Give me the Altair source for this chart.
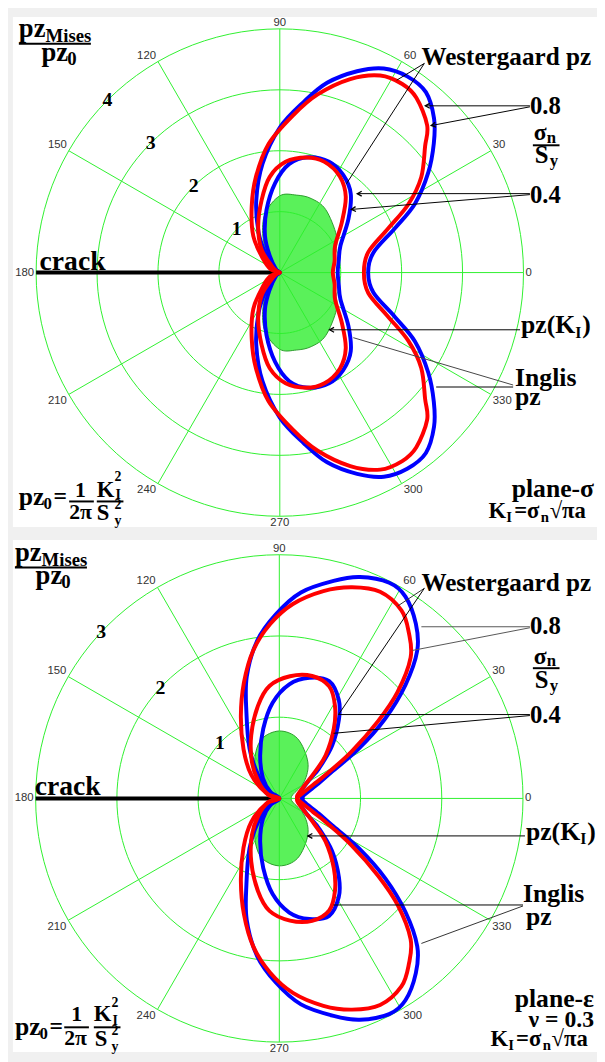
import math
import altair as alt
import pandas as pd

# ===================== values =====================
# Polar curves: angle in degrees (0 = ahead of the crack tip), radius in pz/pz0.
# Only the upper half is listed; every loop is a mirror image about the crack line.

# ---- top panel: plane stress ----
TOP_WEST_08_ANG = [0, 12, 21, 27, 34, 40, 45, 51, 57, 63, 69, 76, 82, 90, 99, 108, 118, 129, 145, 180]
TOP_WEST_08_R = [1.45, 1.57, 2.02, 2.49, 2.94, 3.30, 3.58, 3.81, 3.84, 3.76, 3.54, 3.21, 2.83, 2.38, 1.81, 1.25, 0.74, 0.35, 0.13, 0]
TOP_INGL_08_ANG = [0, 13, 22, 28, 34, 41, 45, 52, 57, 63, 70, 78, 85, 95, 104, 113, 126, 141, 160, 180]
TOP_INGL_08_R = [1.38, 1.49, 1.91, 2.39, 2.80, 3.16, 3.42, 3.64, 3.69, 3.63, 3.38, 2.99, 2.60, 2.12, 1.62, 1.18, 0.74, 0.35, 0.16, 0]
TOP_WEST_04_ANG = [0, 12, 24, 38, 48, 57, 66, 76, 85, 93, 102, 112, 121, 140, 180]
TOP_WEST_04_R = [0.95, 0.99, 1.09, 1.43, 1.74, 1.91, 1.99, 1.95, 1.79, 1.47, 1.05, 0.65, 0.32, 0.08, 0]
TOP_INGL_04_ANG = [0, 12, 26, 39, 49, 58, 68, 77, 87, 96, 104, 115, 128, 140, 160, 180]
TOP_INGL_04_R = [0.87, 0.92, 1.01, 1.31, 1.65, 1.86, 1.96, 1.94, 1.82, 1.58, 1.23, 0.84, 0.49, 0.18, 0.05, 0]
TOP_KI_ANG = [0, 20, 33, 54, 67, 78, 90, 104, 115, 125, 150, 180]
TOP_KI_R = [0.86, 0.97, 1.11, 1.28, 1.32, 1.30, 1.26, 1.00, 0.66, 0.34, 0.06, 0]

# ---- bottom panel: plane strain, nu = 0.3 ----
BOT_WEST_08_ANG = [0, 8, 21, 27, 32, 37, 42, 47, 52, 58, 63, 70, 76, 84, 91, 98, 105, 111, 121, 132, 144, 180]
BOT_WEST_08_R = [0.29, 0.31, 0.52, 0.73, 1.15, 1.63, 2.09, 2.49, 2.73, 2.93, 2.98, 2.90, 2.76, 2.55, 2.27, 1.96, 1.55, 1.13, 0.71, 0.39, 0.15, 0]
BOT_INGL_08_ANG = [0, 10, 22, 27, 33, 38, 42, 47, 52, 57, 64, 71, 78, 86, 93, 100, 107, 115, 126, 140, 158, 180]
BOT_INGL_08_R = [0.22, 0.27, 0.45, 0.64, 1.06, 1.54, 1.96, 2.37, 2.59, 2.76, 2.83, 2.75, 2.61, 2.40, 2.15, 1.85, 1.49, 1.12, 0.75, 0.45, 0.17, 0]
BOT_WEST_04_ANG = [0, 18, 32, 37, 45, 53, 59, 67, 76, 85, 94, 103, 114, 129, 147, 180]
BOT_WEST_04_R = [0.28, 0.28, 0.44, 0.61, 0.92, 1.22, 1.42, 1.57, 1.53, 1.41, 1.18, 0.88, 0.58, 0.32, 0.12, 0]
BOT_INGL_04_ANG = [0, 11, 28, 35, 43, 52, 59, 66, 75, 85, 95, 103, 114, 127, 141, 162, 180]
BOT_INGL_04_R = [0.22, 0.23, 0.36, 0.50, 0.78, 1.09, 1.33, 1.51, 1.56, 1.51, 1.39, 1.17, 0.85, 0.56, 0.33, 0.14, 0]
BOT_KI_ANG = [0, 15, 34, 52, 73, 90, 107, 122, 136, 158, 180]
BOT_KI_R = [0.15, 0.17, 0.37, 0.57, 0.77, 0.83, 0.76, 0.57, 0.36, 0.17, 0]

# ---- grid ----
TOP_RINGS = [1, 2, 3, 4]
BOT_RINGS = [1, 2, 3]
SPOKES = [0, 30, 60, 90, 120, 150, 180, 210, 240, 270, 300, 330]

BLUE = "#0000ff"
RED = "#ff0000"
GRID = "#2ef02e"
KFILL = "#4cf04c"
KEDGE = "#2c9c2c"
SERIF = "Liberation Serif"


def loop_rows(name, angs, rs):
    rows = []
    for a, r in zip(angs, rs):
        rows.append({"curve": name, "idx": len(rows), "ang": a, "r": r})
    for a, r in zip(reversed(angs[1:-1]), reversed(rs[1:-1])):
        rows.append({"curve": name, "idx": len(rows), "ang": 360 - a, "r": r})
    return rows


XCALC = "datum.r * cos(datum.ang * PI / 180)"
YCALC = "datum.r * sin(datum.ang * PI / 180)"


def panel(p):
    ox, oy = p["origin"]
    W, H = p["size"]
    cx, cy = p["center"]
    u = p["unit"]
    xs = alt.Scale(domain=[(ox - cx) / u, (ox + W - cx) / u], nice=False, zero=False)
    ys = alt.Scale(domain=[(cy - (oy + H)) / u, (cy - oy) / u], nice=False, zero=False)

    def X(f):
        return alt.X(f, type="quantitative", scale=xs, axis=None)

    def Y(f):
        return alt.Y(f, type="quantitative", scale=ys, axis=None)

    def PX(f):
        return alt.X(f, type="quantitative", scale=None, axis=None)

    def PY(f):
        return alt.Y(f, type="quantitative", scale=None, axis=None)

    layers = []
    R = max(p["rings"])

    # green pz(KI) zone
    kdf = pd.DataFrame(loop_rows("KI", p["ki"][0], p["ki"][1]))
    layers.append(
        alt.Chart(kdf).transform_calculate(x=XCALC, y=YCALC)
        .mark_line(interpolate="cardinal-closed", fill=KFILL, fillOpacity=0.92,
                   stroke=KEDGE, strokeWidth=1)
        .encode(x=X("x"), y=Y("y"), order=alt.Order("idx:Q"))
    )

    # rings
    ring_df = pd.DataFrame([{"ring": k, "ang": a} for k in p["rings"] for a in range(0, 361, 3)])
    layers.append(
        alt.Chart(ring_df).transform_calculate(x="datum.ring * cos(datum.ang * PI / 180)",
                                               y="datum.ring * sin(datum.ang * PI / 180)")
        .mark_line(color=GRID, strokeWidth=1)
        .encode(x=X("x"), y=Y("y"), detail="ring:N", order=alt.Order("ang:Q"))
    )

    # spokes
    sp_df = pd.DataFrame({"ang": SPOKES, "r": [R] * len(SPOKES), "z": [0] * len(SPOKES)})
    layers.append(
        alt.Chart(sp_df).transform_calculate(x=XCALC, y=YCALC)
        .mark_rule(color=GRID, strokeWidth=1)
        .encode(x=X("z"), y=Y("z"), x2="x:Q", y2="y:Q")
    )

    # crack
    cr_df = pd.DataFrame({"x0": [-R], "x1": [0], "y": [0]})
    layers.append(
        alt.Chart(cr_df).mark_rule(color="black", strokeWidth=4)
        .encode(x=X("x0"), x2="x1:Q", y=Y("y"))
    )

    # curves: blue (Westergaard) below red (Inglis)
    for curves, col in ((p["west"], BLUE), (p["ingl"], RED)):
        rows = []
        for name, (angs, rs) in curves.items():
            rows += loop_rows(name, angs, rs)
        layers.append(
            alt.Chart(pd.DataFrame(rows)).transform_calculate(x=XCALC, y=YCALC)
            .mark_line(interpolate="cardinal-closed", color=col, strokeWidth=4)
            .encode(x=X("x"), y=Y("y"), detail="curve:N", order=alt.Order("idx:Q"))
        )

    # angle labels
    lab = []
    for a in SPOKES:
        c, s = math.cos(math.radians(a)), math.sin(math.radians(a))
        al = "left" if c > 0.2 else ("right" if c < -0.2 else "center")
        bl = "bottom" if s > 0.2 else ("top" if s < -0.2 else "middle")
        lab.append({"ang": a, "r": R, "txt": str(a), "al": al, "bl": bl})
    lab_df = pd.DataFrame(lab)
    for (al, bl), g in lab_df.groupby(["al", "bl"]):
        dx = 2 if al == "left" else (-2 if al == "right" else 0)
        dy = -1 if bl == "bottom" else (1 if bl == "top" else 0)
        layers.append(
            alt.Chart(g).transform_calculate(x=XCALC, y=YCALC)
            .mark_text(align=al, baseline=bl, dx=dx, dy=dy, font="Liberation Sans",
                       fontSize=11.5, color="#333333")
            .encode(x=X("x"), y=Y("y"), text="txt:N")
        )

    # ring value labels
    rl_df = pd.DataFrame({"r": p["rings"], "ang": [p["radial_ang"]] * len(p["rings"]),
                          "txt": [str(k) for k in p["rings"]]})
    layers.append(
        alt.Chart(rl_df).transform_calculate(x=XCALC, y=YCALC)
        .mark_text(font=SERIF, fontWeight="bold", fontSize=20, color="black",
                   align="center", baseline="middle")
        .encode(x=X("x"), y=Y("y"), text="txt:N")
    )

    # leader lines and arrowheads (annotation, in pixels)
    seg = pd.DataFrame([
        {"x1": a[0] - ox, "y1": a[1] - oy, "x2": a[2] - ox, "y2": a[3] - oy, "c": a[4], "arrow": a[5]}
        for a in p["leaders"]
    ])
    layers.append(
        alt.Chart(seg).mark_rule(strokeWidth=1)
        .encode(x=PX("x1"), y=PY("y1"), x2="x2:Q", y2="y2:Q",
                color=alt.Color("c:N", scale=None))
    )
    arr = seg[seg["arrow"]]
    if len(arr):
        layers.append(
            alt.Chart(arr).transform_calculate(
                ang="(atan2(datum.y1 - datum.y2, datum.x1 - datum.x2) * 180 / PI + 360) % 360")
            .mark_point(shape="M 1 -0.55 L 0 0 L 1 0.55", filled=False, stroke="black",
                        strokeWidth=1.3, size=81, opacity=1)
            .encode(x=PX("x2"), y=PY("y2"), angle=alt.Angle("ang:Q", scale=None))
        )

    # fraction bars
    bars = pd.DataFrame([{"x1": b[0] - ox, "x2": b[1] - ox, "y": b[2] - oy} for b in p["bars"]])
    layers.append(
        alt.Chart(bars).mark_rule(color="black", strokeWidth=2)
        .encode(x=PX("x1"), x2="x2:Q", y=PY("y"))
    )

    # texts
    for al in ("left", "right"):
        tx = [t for t in p["texts"] if (t[4] if len(t) > 4 else "left") == al]
        if not tx:
            continue
        tdf = pd.DataFrame([{"t": t[0], "x": t[1] - ox, "y": t[2] - oy, "fs": t[3]} for t in tx])
        layers.append(
            alt.Chart(tdf).mark_text(font=SERIF, fontWeight="bold", align=al,
                                     baseline="alphabetic", color="black")
            .encode(x=PX("x"), y=PY("y"), text="t:N", size=alt.Size("fs:Q", scale=None))
        )

    return (alt.layer(*layers)
            .resolve_scale(x="independent", y="independent", color="independent",
                           size="independent", angle="independent")
            .properties(width=W, height=H))


TOP = {
    "origin": (13, 8), "size": (592, 517), "center": (283.5, 267), "unit": 61.75,
    "rings": TOP_RINGS, "radial_ang": 135,
    "ki": (TOP_KI_ANG, TOP_KI_R),
    "west": {"w08": (TOP_WEST_08_ANG, TOP_WEST_08_R), "w04": (TOP_WEST_04_ANG, TOP_WEST_04_R)},
    "ingl": {"i08": (TOP_INGL_08_ANG, TOP_INGL_08_R), "i04": (TOP_INGL_04_ANG, TOP_INGL_04_R)},
    "leaders": [
        (430, 55, 402, 72, "black", False),
        (430, 55, 351, 177, "black", False),
        (537, 98, 431, 98, "black", True),
        (537, 99, 437, 118, "black", True),
        (537, 187, 362, 187, "black", True),
        (537, 188, 356, 203, "black", True),
        (527, 325, 334, 325, "black", True),
        (520, 381, 358, 333, "#444444", False),
        (520, 383, 442, 383, "black", False),
    ],
    "bars": [(19, 92, 35), (540, 567, 138), (70, 95, 499), (98, 125, 499)],
    "texts": [
        ("pz", 19, 28, 27), ("Mises", 46, 33, 19), ("pz", 42, 53, 27), ("0", 68, 57, 19),
        ("crack", 40, 264, 28),
        ("Westergaard pz", 427, 57, 25.5),
        ("0.8", 537, 106, 25),
        ("σ", 541, 133, 24), ("n", 554, 136, 17), ("S", 542, 156, 25), ("y", 557, 159, 17),
        ("0.4", 537, 196, 25),
        ("pz(K", 528, 328, 26), ("I", 583, 333, 16), (")", 590, 328, 26),
        ("Inglis", 522, 382, 26), ("pz", 522, 401, 26),
        ("pz", 19, 503, 26), ("0", 44, 507, 17), ("=", 54, 502, 24),
        ("1", 76, 494, 22), ("2π", 70, 517, 22),
        ("K", 98, 494, 23), ("2", 116, 478, 14), ("I", 117, 497, 14),
        ("S", 98, 518, 23), ("2", 116, 507, 14), ("y", 116, 523, 14),
        ("plane-σ", 602, 494, 26, "right"),
        ("K", 495, 516, 23), ("I", 513, 520, 15), ("=σ", 521, 516, 23), ("n", 548, 520, 15),
        ("√πa", 557, 516, 23),
    ],
}

BOT = {
    "origin": (13, 535), "size": (592, 519), "center": (283, 797), "unit": 82.33,
    "rings": BOT_RINGS, "radial_ang": 137,
    "ki": (BOT_KI_ANG, BOT_KI_R),
    "west": {"w08": (BOT_WEST_08_ANG, BOT_WEST_08_R), "w04": (BOT_WEST_04_ANG, BOT_WEST_04_R)},
    "ingl": {"i08": (BOT_INGL_08_ANG, BOT_INGL_08_R), "i04": (BOT_INGL_04_ANG, BOT_INGL_04_R)},
    "leaders": [
        (430, 584, 403, 602, "#333333", False),
        (430, 584, 343, 712, "black", False),
        (537, 623, 427, 623, "#555555", False),
        (537, 624, 418, 647, "#555555", False),
        (537, 712, 343, 712, "black", False),
        (537, 713, 338, 731, "black", False),
        (532, 835, 312, 835, "black", True),
        (530, 905, 338, 905, "black", False),
        (530, 906, 427, 944, "#333333", False),
    ],
    "bars": [(15, 88, 563), (540, 567, 665), (65, 90, 1029), (95, 122, 1029)],
    "texts": [
        ("pz", 15, 556, 27), ("Mises", 42, 561, 19), ("pz", 36, 580, 27), ("0", 62, 584, 19),
        ("crack", 35, 794, 28),
        ("Westergaard pz", 427, 587, 25.5),
        ("0.8", 537, 630, 25),
        ("σ", 541, 661, 24), ("n", 554, 663, 17), ("S", 542, 685, 25), ("y", 557, 688, 17),
        ("0.4", 537, 721, 25),
        ("pz(K", 533, 839, 26), ("I", 588, 843, 16), (")", 595, 839, 26),
        ("Inglis", 530, 902, 26), ("pz", 533, 925, 26),
        ("pz", 15, 1037, 26), ("0", 40, 1041, 17), ("=", 50, 1036, 24),
        ("1", 72, 1023, 22), ("2π", 65, 1047, 22),
        ("K", 95, 1023, 23), ("2", 113, 1008, 14), ("I", 114, 1027, 14),
        ("S", 96, 1048, 23), ("2", 113, 1037, 14), ("y", 113, 1053, 14),
        ("plane-ε", 602, 1008, 26, "right"),
        ("ν = 0.3", 602, 1029, 24, "right"),
        ("K", 497, 1048, 23), ("I", 515, 1052, 15), ("=σ", 523, 1048, 23), ("n", 550, 1052, 15),
        ("√πa", 559, 1048, 23),
    ],
}

chart = (
    alt.vconcat(panel(TOP), panel(BOT), spacing=10)
    .properties(background="#f0f0f0", padding={"left": 5, "top": 0, "right": 0, "bottom": 0})
    .configure_view(fill="white", stroke=None)
)

chart.save("out.html", embed_options={"renderer": "svg", "actions": False})
